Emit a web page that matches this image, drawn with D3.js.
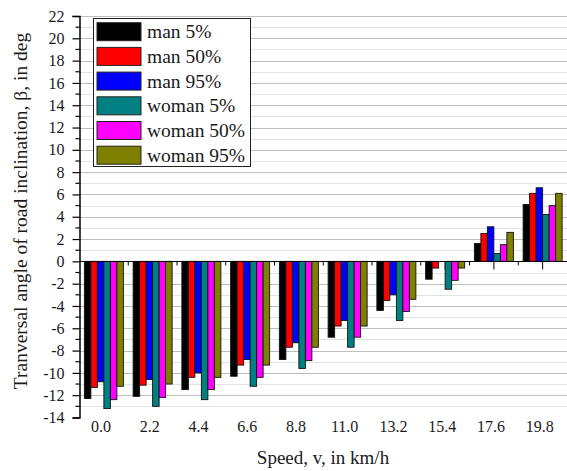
<!DOCTYPE html>
<html>
<head>
<meta charset="utf-8">
<script src="https://cdn.jsdelivr.net/npm/d3@7"></script>
<style>
  body { margin: 0; background: #fff; }
  svg text { font-family: "Liberation Serif", "Times New Roman", serif !important; fill: #1a1a1a; }
</style>
</head>
<body>
<div id="container"></div>
<script>
// speeds (km/h) on the category axis
const speeds = ["0.0", "2.2", "4.4", "6.6", "8.8", "11.0", "13.2", "15.4", "17.6", "19.8"];
const seriesNames = ["man 5%", "man 50%", "man 95%", "woman 5%", "woman 50%", "woman 95%"];
const seriesColors = ["#000000", "#ff0000", "#0000ff", "#008080", "#ff00ff", "#808000"];

// transversal angle beta (deg)
const man5    = [-12.3, -12.1, -11.5, -10.3, -8.8, -6.8, -4.4, -1.6, 1.6, 5.1];
const man50   = [-11.3, -11.1, -10.4, -9.3, -7.7, -5.8, -3.5, -0.6, 2.5, 6.1];
const man95   = [-10.8, -10.6, -10.0, -8.8, -7.3, -5.3, -3.0, 0.0, 3.1, 6.6];
const woman5  = [-13.2, -13.0, -12.4, -11.2, -9.6, -7.7, -5.3, -2.5, 0.7, 4.2];
const woman50 = [-12.4, -12.2, -11.5, -10.4, -8.9, -6.8, -4.5, -1.7, 1.5, 5.0];
const woman95 = [-11.2, -11.0, -10.4, -9.3, -7.7, -5.8, -3.4, -0.6, 2.6, 6.1];

const seriesValues = [man5, man50, man95, woman5, woman50, woman95];
const yTicks = d3.range(-14, 23, 2);

const width = 567, height = 471;
const mLeft = 79.5, mRight = 567, mTop = 16, mBottom = 417.5;
const serif = '"Liberation Serif", "Times New Roman", serif';

const svg = d3.select("#container").append("svg")
    .attr("width", width)
    .attr("height", height);

const x = d3.scaleBand()
    .domain(speeds)
    .range([mLeft, mRight])
    .paddingInner(0.2)
    .paddingOuter(0.1);

const xs = d3.scaleBand()
    .domain(seriesNames)
    .range([0, x.bandwidth()]);

const y = d3.scaleLinear()
    .domain([-14, 22])
    .range([mBottom, mTop]);

// grid lines, one per unit
const grid = svg.append("g");
grid.selectAll("line").data(d3.range(-13, 23)).enter().append("line")
    .attr("x1", mLeft).attr("x2", mRight)
    .attr("y1", d => Math.round(y(d)) + 0.5)
    .attr("y2", d => Math.round(y(d)) + 0.5)
    .attr("stroke", d => d % 2 === 0 ? "#bdbdbd" : "#e3e3e3")
    .attr("stroke-width", 1);

// ticks on the zero line (under the bars)
const step = x.step();
const zy = Math.round(y(0)) + 0.5;
svg.append("g").selectAll("line").data(speeds).enter().append("line")
    .attr("x1", d => x(d) + x.bandwidth() / 2).attr("x2", d => x(d) + x.bandwidth() / 2)
    .attr("y1", zy).attr("y2", zy + 8)
    .attr("stroke", "#000");
svg.append("g").selectAll("line").data(speeds.slice(1)).enter().append("line")
    .attr("x1", d => x(d) - step * 0.1).attr("x2", d => x(d) - step * 0.1)
    .attr("y1", zy).attr("y2", zy + 4)
    .attr("stroke", "#000");

// bars
const groups = svg.append("g").selectAll("g").data(seriesNames).enter().append("g")
    .attr("fill", (d, i) => seriesColors[i]);

groups.selectAll("rect")
    .data((name, i) => seriesValues[i].map((v, j) => ({ name: name, speed: speeds[j], v: v })))
    .enter().append("rect")
    .attr("x", d => x(d.speed) + xs(d.name))
    .attr("width", xs.bandwidth())
    .attr("y", d => y(Math.max(0, d.v)))
    .attr("height", d => Math.abs(y(d.v) - y(0)))
    .attr("stroke", "#111")
    .attr("stroke-width", 0.9);

// zero line
svg.append("line")
    .attr("x1", mLeft).attr("x2", mRight)
    .attr("y1", zy).attr("y2", zy)
    .attr("stroke", "#000").attr("stroke-width", 1.2);

// y axis
const yAxis = svg.append("g")
    .attr("transform", `translate(${mLeft},0)`)
    .attr("font-family", serif)
    .call(d3.axisLeft(y).tickValues(yTicks).tickSize(7).tickPadding(8).tickFormat(d3.format("d")));
yAxis.select(".domain").attr("stroke", "#000").attr("stroke-width", 1.5);
yAxis.selectAll(".tick line").attr("stroke", "#000").attr("stroke-width", 1.2);
yAxis.selectAll(".tick text")
    .style("font-family", serif)
    .style("font-size", "16px")
    .attr("fill", "#1a1a1a")
    .text(d => d < 0 ? "-" + Math.abs(d) : d);
svg.append("g").selectAll("line").data(d3.range(-13, 22, 2)).enter().append("line")
    .attr("x1", mLeft - 4).attr("x2", mLeft)
    .attr("y1", d => y(d)).attr("y2", d => y(d))
    .attr("stroke", "#000").attr("stroke-width", 1.2);

// x labels
svg.append("g").selectAll("text").data(speeds).enter().append("text")
    .attr("x", d => x(d) + x.bandwidth() / 2 - 3)
    .attr("y", 432)
    .attr("text-anchor", "middle")
    .style("font-family", serif)
    .style("font-size", "16px")
    .text(d => d);

// axis titles
svg.append("text")
    .attr("x", 323).attr("y", 464)
    .attr("text-anchor", "middle")
    .style("font-family", serif)
    .style("font-size", "19px")
    .text("Speed, v, in km/h");

svg.append("text")
    .attr("transform", "translate(27,211) rotate(-90)")
    .attr("text-anchor", "middle")
    .style("font-family", serif)
    .style("font-size", "19.5px")
    .text("Tranversal angle of road inclination, β, in deg");

// legend
const legend = svg.append("g");
legend.append("rect")
    .attr("x", 93.5).attr("y", 18.5)
    .attr("width", 157).attr("height", 148)
    .attr("fill", "#fff").attr("stroke", "#222").attr("stroke-width", 1);

const items = legend.selectAll("g.item").data(seriesNames).enter().append("g")
    .attr("class", "item")
    .attr("transform", (d, i) => `translate(0,${31.7 + i * 24.7})`);
items.append("rect")
    .attr("x", 97).attr("y", -9)
    .attr("width", 44).attr("height", 18)
    .attr("fill", (d, i) => seriesColors[i])
    .attr("stroke", "#222").attr("stroke-width", 1);
items.append("text")
    .attr("x", 147).attr("y", 6.5)
    .style("font-family", serif)
    .style("font-size", "19.5px")
    .text(d => d);
</script>
</body>
</html>
